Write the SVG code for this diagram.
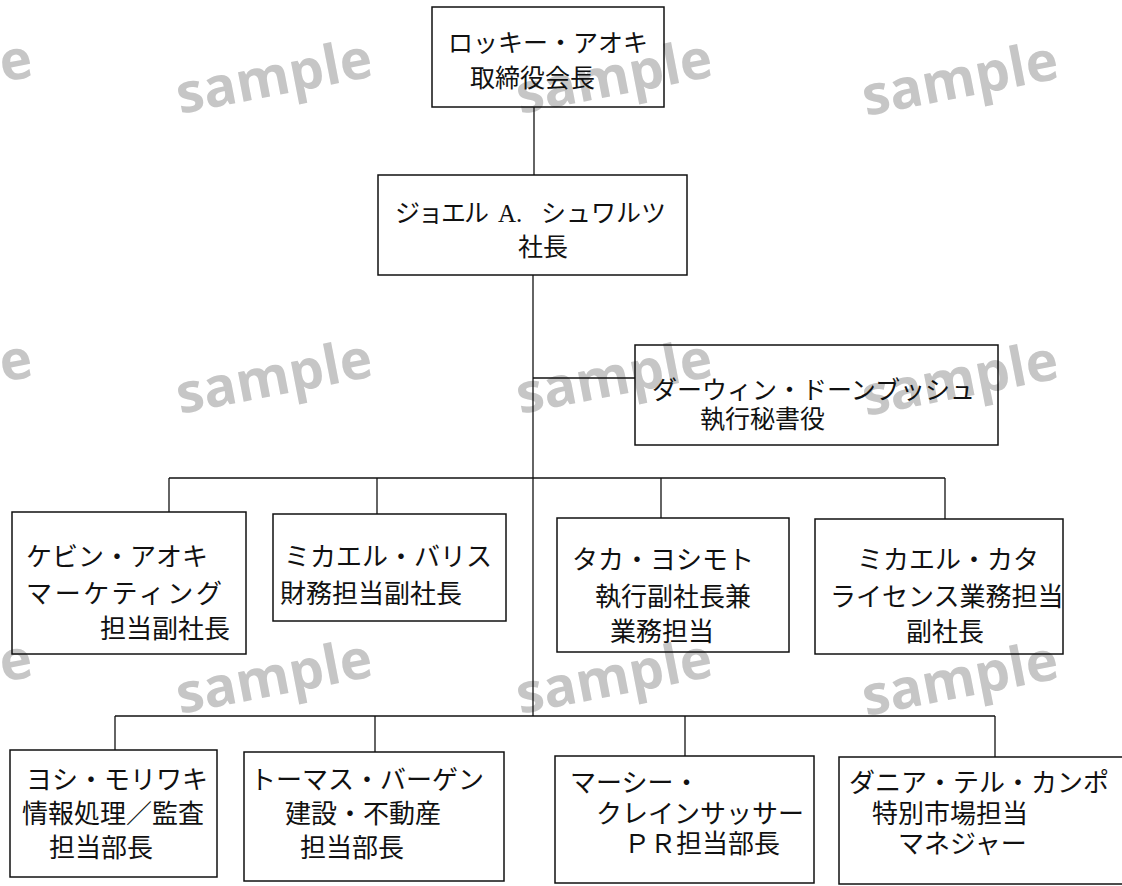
<svg xmlns="http://www.w3.org/2000/svg" width="1122" height="886" viewBox="0 0 1122 886">
  <style>
    .wm { font-family: "Open Sans", "Noto Sans", sans-serif; font-weight: bold; font-size: 55px; fill: #c6c6c6; }
    .box { fill: none; stroke: #111; stroke-width: 1.5; }
    .ln { fill: none; stroke: #111; stroke-width: 1.3; }
    .t { font-family: "Noto Sans CJK JP", "Noto Sans", sans-serif; font-size: 25px; fill: #111; }
    .s { font-size: 26px; }
  </style>
  <rect width="1122" height="886" fill="#fff"/>
  <g id="watermarks">
    <text class="wm" transform="translate(-160,114) rotate(-11)">sample</text>
    <text class="wm" transform="translate(180,114) rotate(-11)">sample</text>
    <text class="wm" transform="translate(520,114) rotate(-11)">sample</text>
    <text class="wm" transform="translate(866,116) rotate(-11)">sample</text>
    <text class="wm" transform="translate(-160,414) rotate(-11)">sample</text>
    <text class="wm" transform="translate(180,414) rotate(-11)">sample</text>
    <text class="wm" transform="translate(520,414) rotate(-11)">sample</text>
    <text class="wm" transform="translate(866,416) rotate(-11)">sample</text>
    <text class="wm" transform="translate(-160,714) rotate(-11)">sample</text>
    <text class="wm" transform="translate(180,714) rotate(-11)">sample</text>
    <text class="wm" transform="translate(520,714) rotate(-11)">sample</text>
    <text class="wm" transform="translate(866,716) rotate(-11)">sample</text>
  </g>
  <g id="connectors">
    <path class="ln" d="M534,107 V175"/>
    <path class="ln" d="M533,275 V716"/>
    <path class="ln" d="M533,378 H635"/>
    <path class="ln" d="M169,478 H945"/>
    <path class="ln" d="M169,478 V512"/>
    <path class="ln" d="M377,478 V514"/>
    <path class="ln" d="M661,478 V518"/>
    <path class="ln" d="M945,478 V519"/>
    <path class="ln" d="M115,716 H995"/>
    <path class="ln" d="M115,716 V750"/>
    <path class="ln" d="M375,716 V752"/>
    <path class="ln" d="M685,716 V756"/>
    <path class="ln" d="M995,716 V757"/>
  </g>
  <g id="chairman">
    <rect class="box" x="432" y="7" width="232" height="100"/>
    <text class="t" x="448" y="52">ロッキー・アオキ</text>
    <text class="t" x="470" y="87">取締役会長</text>
  </g>
  <g id="president">
    <rect class="box" x="378" y="175" width="309" height="100"/>
    <text class="t" y="222"><tspan x="395" letter-spacing="-2">ジョエル </tspan><tspan x="498" font-family="Liberation Serif, serif">A. </tspan><tspan x="541">シュワルツ</tspan></text>
    <text class="t" x="518" y="256">社長</text>
  </g>
  <g id="secretary">
    <rect class="box" x="635" y="345" width="363" height="100"/>
    <text class="t" x="652" y="399">ダーウィン・ドーンブッシュ</text>
    <text class="t" x="700" y="428">執行秘書役</text>
  </g>
  <g id="aoki">
    <rect class="box" x="12" y="512" width="234" height="142"/>
    <text class="t s" x="26" y="566">ケビン・アオキ</text>
    <text class="t s" x="26" y="603" textLength="196" lengthAdjust="spacing">マーケティング</text>
    <text class="t s" x="100" y="638">担当副社長</text>
  </g>
  <g id="barris">
    <rect class="box" x="273" y="514" width="233" height="107"/>
    <text class="t s" x="284" y="566">ミカエル・バリス</text>
    <text class="t s" x="280" y="603">財務担当副社長</text>
  </g>
  <g id="yoshimoto">
    <rect class="box" x="557" y="518" width="232" height="134"/>
    <text class="t s" x="572" y="569">タカ・ヨシモト</text>
    <text class="t s" x="595" y="606">執行副社長兼</text>
    <text class="t s" x="610" y="641">業務担当</text>
  </g>
  <g id="kata">
    <rect class="box" x="815" y="519" width="248" height="135"/>
    <text class="t s" x="857" y="569">ミカエル・カタ</text>
    <text class="t s" x="830" y="606">ライセンス業務担当</text>
    <text class="t s" x="906" y="641">副社長</text>
  </g>
  <g id="moriwaki">
    <rect class="box" x="10" y="750" width="207" height="127"/>
    <text class="t s" x="26" y="789">ヨシ・モリワキ</text>
    <text class="t s" x="22" y="823">情報処理／監査</text>
    <text class="t s" x="49" y="857">担当部長</text>
  </g>
  <g id="bergen">
    <rect class="box" x="244" y="752" width="260" height="129"/>
    <text class="t s" x="250" y="789">トーマス・バーゲン</text>
    <text class="t s" x="285" y="823">建設・不動産</text>
    <text class="t s" x="300" y="857">担当部長</text>
  </g>
  <g id="kleinsasser">
    <rect class="box" x="555" y="756" width="259" height="127"/>
    <text class="t s" x="570" y="792">マーシー・</text>
    <text class="t s" x="596" y="823">クレインサッサー</text>
    <text class="t s" x="624" y="853">ＰＲ担当部長</text>
  </g>
  <g id="campo">
    <rect class="box" x="839" y="757" width="290" height="127"/>
    <text class="t s" x="849" y="792">ダニア・テル・カンポ</text>
    <text class="t s" x="872" y="823">特別市場担当</text>
    <text class="t s" x="898" y="853">マネジャー</text>
  </g>
</svg>
